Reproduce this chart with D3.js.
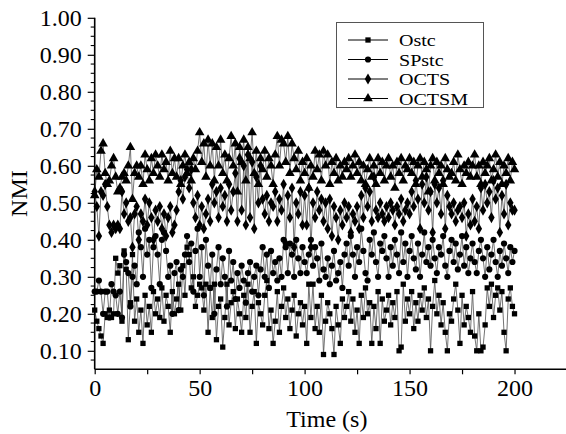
<!DOCTYPE html>
<html>
<head>
<meta charset="utf-8">
<script src="https://cdn.jsdelivr.net/npm/d3@7"></script>
<style>
  body { margin: 0; background: #fff; }
  text { font-family: "Liberation Serif", "Times New Roman", serif; fill: #000; }
</style>
</head>
<body>
<div id="chart"></div>
<script>
var svgWidth = 566;
var svgHeight = 434;

// seconds 0..200, one sample per second
var times = d3.range(0, 201);

var seriesNames = ["Ostc", "SPstc", "OCTS", "OCTSM"];

var ostc = [
    0.21, 0.18, 0.16, 0.14, 0.12, 0.20, 0.19, 0.21, 0.19, 0.20,
    0.35, 0.31, 0.33, 0.18, 0.37, 0.32, 0.13, 0.23, 0.36, 0.18,
    0.24, 0.15, 0.21, 0.12, 0.25, 0.17, 0.22, 0.15, 0.26, 0.20,
    0.24, 0.19, 0.27, 0.18, 0.25, 0.22, 0.15, 0.26, 0.20, 0.24,
    0.28, 0.21, 0.33, 0.25, 0.38, 0.36, 0.27, 0.30, 0.22, 0.25,
    0.28, 0.27, 0.21, 0.28, 0.15, 0.27, 0.19, 0.28, 0.13, 0.22,
    0.24, 0.11, 0.19, 0.28, 0.17, 0.23, 0.26, 0.16, 0.24, 0.20,
    0.15, 0.25, 0.19, 0.28, 0.15, 0.22, 0.26, 0.12, 0.23, 0.20,
    0.17, 0.25, 0.29, 0.16, 0.21, 0.12, 0.18, 0.26, 0.15, 0.22,
    0.27, 0.19, 0.24, 0.16, 0.21, 0.25, 0.14, 0.20, 0.23, 0.17,
    0.22, 0.12, 0.28, 0.19, 0.28, 0.16, 0.22, 0.15, 0.25, 0.09,
    0.18, 0.23, 0.20, 0.16, 0.09, 0.22, 0.17, 0.12, 0.24, 0.19,
    0.22, 0.26, 0.18, 0.24, 0.15, 0.21, 0.12, 0.25, 0.19, 0.27,
    0.20, 0.23, 0.12, 0.22, 0.16, 0.26, 0.12, 0.24, 0.18, 0.21,
    0.25, 0.17, 0.23, 0.19, 0.26, 0.10, 0.11, 0.28, 0.18, 0.24,
    0.20, 0.26, 0.16, 0.23, 0.18, 0.25, 0.21, 0.27, 0.19, 0.24,
    0.10, 0.22, 0.29, 0.20, 0.25, 0.17, 0.23, 0.15, 0.10, 0.20,
    0.18, 0.24, 0.28, 0.21, 0.12, 0.25, 0.17, 0.22, 0.19, 0.15,
    0.26, 0.14, 0.10, 0.20, 0.10, 0.11, 0.17, 0.27, 0.22, 0.28,
    0.19, 0.25, 0.27, 0.21, 0.26, 0.15, 0.10, 0.24, 0.27, 0.22,
    0.20
];

var spstc = [
    0.26, 0.26, 0.29, 0.26, 0.20, 0.26, 0.26, 0.19, 0.28, 0.26,
    0.25, 0.20, 0.26, 0.19, 0.36, 0.34, 0.31, 0.22, 0.30, 0.33,
    0.28, 0.42, 0.38, 0.30, 0.43, 0.36, 0.40, 0.27, 0.38, 0.41,
    0.36, 0.28, 0.40, 0.42, 0.37, 0.30, 0.33, 0.20, 0.31, 0.34,
    0.21, 0.32, 0.30, 0.36, 0.41, 0.34, 0.39, 0.26, 0.37, 0.43,
    0.30, 0.38, 0.25, 0.40, 0.33, 0.27, 0.36, 0.20, 0.32, 0.38,
    0.28, 0.35, 0.30, 0.22, 0.37, 0.29, 0.34, 0.24, 0.31, 0.27,
    0.33, 0.29, 0.23, 0.31, 0.34, 0.26, 0.30, 0.33, 0.25, 0.32,
    0.38, 0.30, 0.36, 0.27, 0.37, 0.31, 0.34, 0.29, 0.35, 0.30,
    0.40, 0.38, 0.31, 0.39, 0.36, 0.30, 0.40, 0.35, 0.31, 0.38,
    0.34, 0.31, 0.36, 0.40, 0.33, 0.38, 0.35, 0.29, 0.39, 0.32,
    0.30, 0.35, 0.28, 0.33, 0.37, 0.29, 0.31, 0.34, 0.27, 0.36,
    0.39, 0.33, 0.41, 0.36, 0.30, 0.38, 0.34, 0.43, 0.37, 0.31,
    0.29, 0.40, 0.36, 0.42, 0.34, 0.30, 0.39, 0.37, 0.41, 0.35,
    0.30, 0.38, 0.33, 0.40, 0.36, 0.31, 0.42, 0.34, 0.39, 0.30,
    0.37, 0.41, 0.35, 0.32, 0.39, 0.30, 0.36, 0.42, 0.34, 0.38,
    0.33, 0.40, 0.35, 0.31, 0.38, 0.36, 0.41, 0.33, 0.30, 0.37,
    0.40, 0.34, 0.39, 0.32, 0.36, 0.41, 0.33, 0.38, 0.31, 0.35,
    0.39, 0.34, 0.31, 0.37, 0.40, 0.35, 0.30, 0.38, 0.32, 0.36,
    0.40, 0.34, 0.30, 0.37, 0.33, 0.39, 0.35, 0.31, 0.38, 0.34,
    0.37
];

var octs = [
    0.53, 0.49, 0.41, 0.53, 0.52, 0.55, 0.49, 0.44, 0.42, 0.44,
    0.43, 0.44, 0.43, 0.53, 0.47, 0.50, 0.45, 0.46, 0.38, 0.47,
    0.49, 0.40, 0.47, 0.45, 0.51, 0.44, 0.50, 0.46, 0.40, 0.48,
    0.45, 0.49, 0.43, 0.47, 0.41, 0.46, 0.49, 0.42, 0.44, 0.48,
    0.53, 0.56, 0.51, 0.57, 0.59, 0.54, 0.59, 0.50, 0.46, 0.52,
    0.44, 0.49, 0.43, 0.47, 0.51, 0.45, 0.55, 0.50, 0.53, 0.46,
    0.54, 0.49, 0.52, 0.45, 0.55, 0.48, 0.53, 0.58, 0.45, 0.62,
    0.48, 0.60, 0.44, 0.63, 0.46, 0.61, 0.43, 0.57, 0.50, 0.60,
    0.51, 0.47, 0.52, 0.45, 0.50, 0.49, 0.53, 0.45, 0.51, 0.48,
    0.55, 0.39, 0.52, 0.46, 0.54, 0.38, 0.50, 0.47, 0.53, 0.44,
    0.52, 0.44, 0.54, 0.38, 0.50, 0.46, 0.53, 0.48, 0.51, 0.45,
    0.50, 0.43, 0.51, 0.41, 0.49, 0.46, 0.40, 0.48, 0.44, 0.50,
    0.46, 0.49, 0.42, 0.47, 0.45, 0.49, 0.43, 0.52, 0.46, 0.54,
    0.49, 0.53, 0.45, 0.57, 0.48, 0.46, 0.50, 0.47, 0.45, 0.49,
    0.46, 0.50, 0.48, 0.44, 0.49, 0.47, 0.51, 0.45, 0.48, 0.50,
    0.47, 0.53, 0.49, 0.56, 0.51, 0.43, 0.55, 0.50, 0.57, 0.48,
    0.53, 0.42, 0.55, 0.50, 0.54, 0.47, 0.56, 0.43, 0.52, 0.49,
    0.47, 0.50, 0.45, 0.48, 0.49, 0.46, 0.50, 0.41, 0.47, 0.44,
    0.51, 0.45, 0.49, 0.43, 0.54, 0.48, 0.55, 0.50, 0.53, 0.46,
    0.56, 0.51, 0.54, 0.42, 0.52, 0.47, 0.55, 0.44, 0.50, 0.48,
    0.48
];

var octsm = [
    0.52, 0.59, 0.57, 0.64, 0.66, 0.58, 0.55, 0.56, 0.60, 0.62,
    0.57, 0.53, 0.54, 0.57, 0.58, 0.56, 0.60, 0.65, 0.51, 0.58,
    0.60, 0.57, 0.60, 0.55, 0.63, 0.59, 0.56, 0.62, 0.58, 0.63,
    0.60, 0.57, 0.63, 0.59, 0.61, 0.56, 0.64, 0.58, 0.62, 0.57,
    0.62, 0.55, 0.60, 0.63, 0.58, 0.61, 0.56, 0.62, 0.59, 0.64,
    0.69, 0.61, 0.66, 0.57, 0.67, 0.60, 0.66, 0.56, 0.65, 0.60,
    0.67, 0.58, 0.63, 0.56, 0.62, 0.68, 0.60, 0.66, 0.53, 0.65,
    0.61, 0.67, 0.56, 0.65, 0.62, 0.69, 0.58, 0.64, 0.55, 0.62,
    0.59, 0.64, 0.57, 0.62, 0.60, 0.55, 0.63, 0.68, 0.60, 0.67,
    0.66, 0.61, 0.68, 0.58, 0.66, 0.62, 0.59, 0.64, 0.56, 0.61,
    0.58, 0.62, 0.54, 0.60, 0.57, 0.64, 0.59, 0.63, 0.56, 0.64,
    0.60, 0.63, 0.55, 0.61, 0.58, 0.62, 0.56, 0.60, 0.57, 0.61,
    0.59, 0.62, 0.57, 0.60, 0.63, 0.58, 0.61, 0.56, 0.60, 0.55,
    0.59, 0.62, 0.57, 0.60, 0.55, 0.62, 0.58, 0.61, 0.56, 0.60,
    0.62, 0.57, 0.60, 0.54, 0.61, 0.58, 0.62, 0.56, 0.60, 0.59,
    0.62, 0.58, 0.61, 0.55, 0.60, 0.62, 0.57, 0.61, 0.59, 0.53,
    0.60, 0.62, 0.56, 0.61, 0.58, 0.60, 0.55, 0.62, 0.59, 0.57,
    0.58, 0.61, 0.56, 0.63, 0.59, 0.55, 0.60, 0.58, 0.61, 0.57,
    0.60, 0.63, 0.57, 0.60, 0.55, 0.61, 0.58, 0.60, 0.62, 0.56,
    0.59, 0.63, 0.57, 0.61, 0.55, 0.60, 0.58, 0.62, 0.56, 0.61,
    0.59
];

var xTickValues = [0, 50, 100, 150, 200];
var yTickValues = [0.10, 0.20, 0.30, 0.40, 0.50, 0.60, 0.70, 0.80, 0.90, 1.00];

var allSeries = [ostc, spstc, octs, octsm];
var symbols = [d3.symbolSquare, d3.symbolCircle, d3.symbolDiamond, d3.symbolTriangle];
var symbolSizes = [28, 30, 36, 40];

var svg = d3.select("#chart").append("svg")
    .attr("width", svgWidth)
    .attr("height", svgHeight);

var x = d3.scaleLinear().domain([0, 225]).range([94.7, 567]);
var y = d3.scaleLinear().domain([0.05, 1.0]).range([369.3, 17.8]);

//lines first, markers on top
var line = d3.line()
    .x((d, i) => x(times[i]))
    .y(d => y(d));

var plot = svg.append("g");

allSeries.forEach(function(values, k) {
    plot.append("path")
        .datum(values)
        .attr("fill", "none")
        .attr("stroke", "#505050")
        .attr("stroke-width", 0.8)
        .attr("d", line);
});

allSeries.forEach(function(values, k) {
    plot.selectAll(".m" + k)
        .data(values)
        .enter()
        .append("path")
        .attr("class", "m" + k)
        .attr("d", d3.symbol().type(symbols[k]).size(symbolSizes[k]))
        .attr("transform", (d, i) => `translate(${x(times[i])},${y(d)})`)
        .attr("fill", "#000");
});

// x axis
var xAxis = svg.append("g")
    .attr("transform", `translate(0,${y(0.05)})`)
    .call(d3.axisBottom(x)
        .tickValues(d3.range(0, 226, 25))
        .tickSize(5)
        .tickFormat(d => xTickValues.includes(d) ? d : ""));
xAxis.select(".domain").attr("stroke", "#000").attr("stroke-width", 1.6).attr("d", `M${x(0)},0H${x(225)}`);
xAxis.selectAll(".tick line").attr("stroke-width", 1.2);
xAxis.selectAll(".tick text")
    .attr("y", 10)
    .attr("font-size", 24)
    .attr("font-family", "Liberation Serif");

// y axis with minor ticks
var yAxis = svg.append("g")
    .attr("transform", `translate(${x(0)},0)`)
    .call(d3.axisLeft(y)
        .tickValues(yTickValues)
        .tickSize(7)
        .tickFormat(d3.format(".2f")));
yAxis.select(".domain").attr("stroke", "#000").attr("stroke-width", 1.6).attr("d", `M0,${y(0.05)}V${y(1.0)}`);
yAxis.selectAll(".tick line").attr("stroke-width", 1.2);
yAxis.selectAll(".tick text")
    .attr("x", -13)
    .attr("font-size", 24)
    .attr("font-family", "Liberation Serif");

var minorY = d3.range(0.075, 1.0, 0.025).filter(v => Math.abs(v * 10 - Math.round(v * 10)) > 0.01);
yAxis.selectAll(".minor")
    .data(minorY)
    .enter()
    .append("line")
    .attr("x1", -4).attr("x2", 0)
    .attr("y1", d => y(d)).attr("y2", d => y(d))
    .attr("stroke", "#000")
    .attr("stroke-width", 1.1);

// axis titles
svg.append("text")
    .attr("x", (x(0) + x(225)) / 2 - 4)
    .attr("y", 427)
    .attr("text-anchor", "middle")
    .attr("font-size", 24)
    .text("Time (s)");

svg.append("text")
    .attr("transform", `translate(27,${y(0.525)}) rotate(-90)`)
    .attr("text-anchor", "middle")
    .attr("font-size", 24)
    .text("NMI");

// legend
var legend = svg.append("g");
legend.append("rect")
    .attr("x", 336.5).attr("y", 22.5)
    .attr("width", 147).attr("height", 85)
    .attr("fill", "#fff")
    .attr("stroke", "#555")
    .attr("stroke-width", 1);

var legendRows = [40, 59.5, 79, 98.5];
seriesNames.forEach(function(name, k) {
    var ly = legendRows[k];
    legend.append("line")
        .attr("x1", 348).attr("x2", 388)
        .attr("y1", ly).attr("y2", ly)
        .attr("stroke", "#000")
        .attr("stroke-width", 1);
    legend.append("path")
        .attr("d", d3.symbol().type(symbols[k]).size(symbolSizes[k]))
        .attr("transform", `translate(368,${ly})`)
        .attr("fill", "#000");
    legend.append("text")
        .attr("transform", `translate(399,${ly + 6}) scale(1.18,1)`)
        .attr("font-size", 17)
        .text(name);
});
</script>
</body>
</html>
